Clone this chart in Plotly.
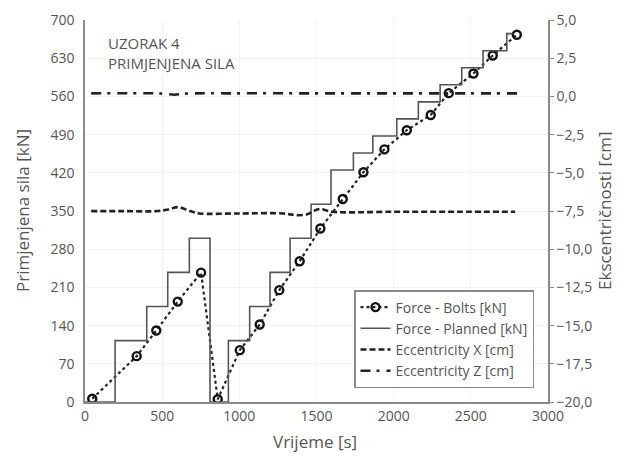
import plotly.graph_objects as go

# Force - Bolts (measured)
bolts_t = [47, 335, 462, 601, 752, 860, 1003, 1132, 1259, 1391, 1525, 1670, 1804,
           1940, 2085, 2240, 2357, 2517, 2642, 2798]
bolts_f = [6, 84, 131, 184, 237, 5, 95, 142, 205, 258, 318, 372, 421,
           463, 498, 526, 566, 602, 635, 673]

# Force - Planned (step levels and change times)
planned_t = [0, 195, 400, 536, 676, 810, 929, 1067, 1199, 1329, 1465, 1594, 1739,
             1865, 2020, 2160, 2301, 2441, 2579, 2733]
planned_f = [0, 112.5, 175, 237.5, 300, 0, 112.5, 175, 237.5, 300, 362.5, 425, 456.25,
             487.5, 518.75, 550, 581.25, 612.5, 643.75, 675]
planned_end = 2770

# Eccentricities
ecc_x_t = [40, 250, 460, 540, 603, 680, 743, 1000, 1283, 1368, 1440, 1480, 1523, 1600, 2000, 2400, 2787]
ecc_x_v = [-7.51, -7.51, -7.51, -7.4, -7.25, -7.5, -7.66, -7.66, -7.66, -7.77, -7.72, -7.5, -7.37, -7.55, -7.55, -7.55, -7.55]
ecc_z_t = [40, 450, 520, 581, 650, 1000, 1500, 2000, 2500, 2806]
ecc_z_v = [0.2, 0.2, 0.17, 0.11, 0.18, 0.2, 0.2, 0.2, 0.2, 0.2]

x_ticks = [0, 500, 1000, 1500, 2000, 2500, 3000]
y_ticks = [0, 70, 140, 210, 280, 350, 420, 490, 560, 630, 700]
y2_ticks = [-20, -17.5, -15, -12.5, -10, -7.5, -5, -2.5, 0, 2.5, 5]

# build step line
st_x, st_y = [], []
for i, (t, f) in enumerate(zip(planned_t, planned_f)):
    if i > 0:
        st_x.append(t)
        st_y.append(planned_f[i - 1])
    st_x.append(t)
    st_y.append(f)
st_x.append(planned_end)
st_y.append(planned_f[-1])

GREY = "#555555"
AX = "#8a8a8a"
FONT = "Open Sans"

# plot area in page pixels (page has an 8px body margin)
PX0, PX1, PY0, PY1 = 85, 548, 20, 402


def px(x):
    return (x - PX0) / (PX1 - PX0)


def py(y):
    return (PY1 - y) / (PY1 - PY0)


fig = go.Figure()
fig.add_trace(go.Scatter(
    x=bolts_t, y=bolts_f, name="Force - Bolts [kN]", mode="lines+markers",
    line=dict(color="#222222", width=2.2, dash="dot"),
    marker=dict(symbol="circle-open", size=8, color="#111111", line=dict(width=2.4, color="#111111")),
))
fig.add_trace(go.Scatter(
    x=st_x, y=st_y, name="Force - Planned [kN]", mode="lines",
    line=dict(color="#555555", width=1.6),
))
fig.add_trace(go.Scatter(
    x=ecc_x_t, y=ecc_x_v, name="Eccentricity X [cm]", mode="lines", yaxis="y2",
    line=dict(color="#222222", width=2.6, dash="6px,3px", shape="spline"),
))
fig.add_trace(go.Scatter(
    x=ecc_z_t, y=ecc_z_v, name="Eccentricity Z [cm]", mode="lines", yaxis="y2",
    line=dict(color="#222222", width=2.6, dash="10px,6px,3px,7px", shape="spline"),
))

fig.update_layout(
    width=612, height=450,
    margin=dict(l=PX0 - 8, r=612 - (PX1 - 8), t=PY0 - 8, b=450 - (PY1 - 8), pad=0),
    paper_bgcolor="white", plot_bgcolor="white",
    separators=", ",
    font=dict(family=FONT, size=14, color=GREY),
    showlegend=True,
    legend=dict(
        x=px(534), y=py(388), xanchor="right", yanchor="bottom",
        bordercolor=AX, borderwidth=1.5, bgcolor="white",
        font=dict(family=FONT, size=14, color=GREY),
        itemwidth=30, tracegroupgap=0,
    ),
    xaxis=dict(
        range=[0, 3000], tickvals=x_ticks, ticktext=[str(v) for v in x_ticks],
        showline=True, linecolor=AX, linewidth=1.5, ticks="", automargin=False,
        showgrid=True, gridcolor="#f2f2f2", gridwidth=1, zeroline=False,
        tickfont=dict(size=14, color=GREY),
    ),
    yaxis=dict(
        range=[0, 700], tickvals=y_ticks, ticktext=[str(v) for v in y_ticks],
        showline=True, linecolor=AX, linewidth=1.5, ticks="", automargin=False,
        showgrid=True, gridcolor="#f2f2f2", gridwidth=1, zeroline=False,
        tickfont=dict(size=14, color=GREY), ticklabelstandoff=6,
    ),
    yaxis2=dict(
        range=[-20, 5], tickvals=y2_ticks, overlaying="y", side="right",
        tickformat=".1f", automargin=False,
        showline=True, linecolor=AX, linewidth=1.5, ticks="outside", ticklen=4, tickcolor=AX,
        showgrid=False, zeroline=False,
        tickfont=dict(size=14, color=GREY),
    ),
    annotations=[
        dict(text="UZORAK 4<br>PRIMJENJENA SILA", x=px(106), y=py(31), xref="paper", yref="paper",
             xanchor="left", yanchor="top", align="left", showarrow=False,
             font=dict(family=FONT, size=15, color=GREY)),
        dict(text="Vrijeme [s]", x=px(315), y=py(441), xref="paper", yref="paper",
             xanchor="center", yanchor="middle",
             showarrow=False, font=dict(size=17, color=GREY)),
        dict(text="Primjenjena sila [kN]", x=px(22), y=0.5, xref="paper", yref="paper",
             xanchor="center", yanchor="middle",
             showarrow=False, textangle=-90, font=dict(size=17, color=GREY)),
        dict(text="Ekscentričnosti [cm]", x=px(604), y=0.5, xref="paper", yref="paper",
             xanchor="center", yanchor="middle",
             showarrow=False, textangle=-90, font=dict(size=17, color=GREY)),
    ],
)

fig.write_html("out.html")
